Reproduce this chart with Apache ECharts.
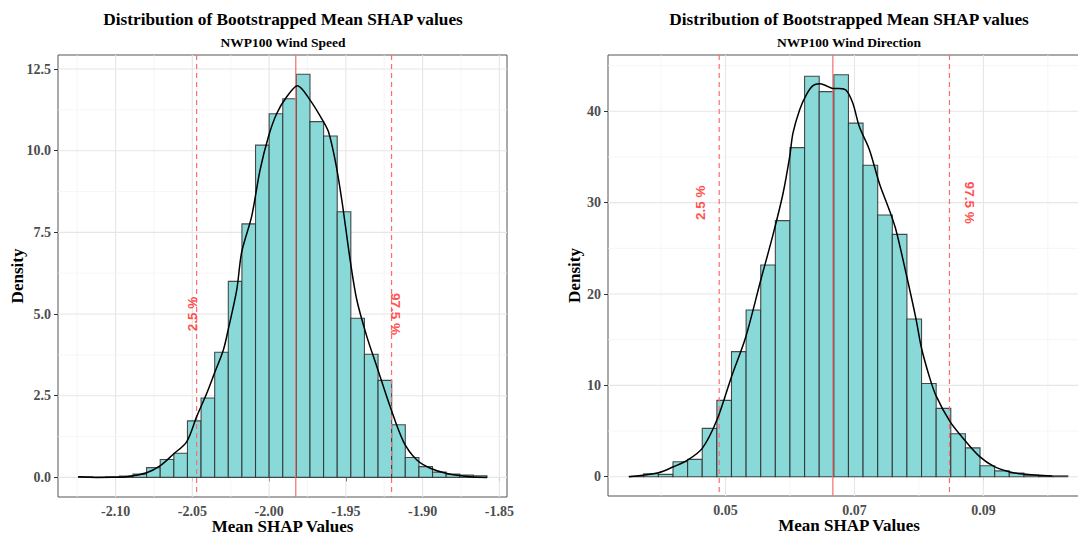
<!DOCTYPE html>
<html><head><meta charset="utf-8">
<script src="https://cdn.jsdelivr.net/npm/echarts@6/dist/echarts.min.js"></script>
<style>html,body{margin:0;padding:0;background:#fff}#c{width:1078px;height:535px}</style>
</head><body><div id="c"></div>
<script>
// ---------- DATA ----------
const titleText = 'Distribution of Bootstrapped Mean SHAP values';
const leftSubtitle = 'NWP100 Wind Speed';
const rightSubtitle = 'NWP100 Wind Direction';
const xAxisName = 'Mean SHAP Values';
const yAxisName = 'Density';

// Left panel: histogram (30 bins)
const leftBinStart = -2.12413;
const leftBinWidth = 0.00887;
const leftHeights = [0.02, 0.01, 0.02, 0.04, 0.10, 0.30, 0.55, 0.74, 1.73, 2.43,
  3.83, 6.00, 7.76, 10.17, 11.13, 11.59, 12.34, 10.89, 10.45, 8.13,
  4.87, 3.77, 2.97, 1.61, 0.61, 0.33, 0.16, 0.10, 0.07, 0.05];
const leftDensityX = [-2.12435, -2.11239, -2.10152, -2.09283, -2.07978, -2.07109, -2.06239, -2.05370,
  -2.04717, -2.04065, -2.03565, -2.02978, -2.02674, -2.02109, -2.01783, -2.01130, -2.00587, -2.00043,
  -1.99500, -1.98848, -1.98152, -1.97326, -1.96457, -1.96130, -1.95696, -1.95261, -1.94717, -1.94283,
  -1.93630, -1.92978, -1.92109, -1.91239, -1.90370, -1.89500, -1.88413, -1.86891, -1.85804];
const leftDensityY = [0.02, 0.00, 0.005, 0.02, 0.14, 0.35, 0.71, 1.09,
  1.86, 2.57, 3.18, 3.90, 4.50, 5.73, 6.90, 8.00, 9.41, 10.43,
  11.14, 11.65, 11.99, 11.55, 10.89, 10.58, 9.71, 8.49, 6.65, 5.43,
  4.31, 3.39, 2.16, 1.09, 0.53, 0.28, 0.12, 0.02, 0.00];
const leftMean = -1.9826;
const leftCI = [-2.0472, -1.9202];
const leftLabelX = [-2.0500, -1.9178];
const leftLabelY = [5.0, 5.0];
const leftXTicks = [-2.10, -2.05, -2.00, -1.95, -1.90, -1.85];
const leftXMinor = [-2.125, -2.075, -2.025, -1.975, -1.925, -1.875];
const leftYTicks = [0, 2.5, 5.0, 7.5, 10.0, 12.5];
const leftYMinor = [1.25, 3.75, 6.25, 8.75, 11.25];

// Right panel: histogram (30 bins)
const rightBinStart = 0.03505;
const rightBinWidth = 0.002268;
const rightHeights = [0.05, 0.33, 0.26, 1.64, 1.90, 5.29, 8.36, 13.69, 18.25, 23.18,
  28.03, 36.02, 43.83, 42.15, 44.00, 38.70, 34.10, 28.65, 26.53, 17.26,
  10.20, 7.48, 4.71, 3.16, 1.20, 0.64, 0.40, 0.16, 0.08, 0.10];
const rightDensityX = [0.03505, 0.03959, 0.04191, 0.04412, 0.04639, 0.04866, 0.05093, 0.05314,
  0.05546, 0.05737, 0.05892, 0.05995, 0.06046, 0.06149, 0.06253, 0.06356, 0.06459, 0.06562,
  0.06665, 0.06768, 0.06871, 0.06974, 0.07077, 0.07232, 0.07387, 0.07541, 0.07644, 0.07809,
  0.07954, 0.08036, 0.08160, 0.08263, 0.08485, 0.08711, 0.08943, 0.09170, 0.09397, 0.09619, 0.10067];
const rightDensityY = [0.00, 0.44, 1.09, 1.82, 3.10, 6.20, 10.95, 15.30,
  21.50, 26.50, 31.00, 35.00, 37.60, 40.15, 41.80, 42.80, 43.00, 42.80,
  42.50, 42.50, 42.30, 40.90, 38.30, 35.80, 32.10, 29.20, 27.00, 22.00,
  17.30, 14.20, 11.00, 8.90, 6.00, 4.00, 2.20, 1.10, 0.55, 0.29, 0.08];
const rightMean = 0.06665;
const rightCI = [0.04902, 0.08474];
const rightLabelX = [0.04608, 0.08783];
const rightLabelY = [30, 30];
const rightXTicks = [0.05, 0.07, 0.09];
const rightXMinor = [0.04, 0.06, 0.08, 0.10];
const rightYTicks = [0, 10, 20, 30, 40];
const rightYMinor = [5, 15, 25, 35, 45];

const ciLabels = ['2.5 %', '97.5 %'];
const ciLabelRotation = [1, -1];

// ---------- LAYOUT / STYLE ----------
const L = { xMin: -2.1375, xMax: -1.845, yMin: -0.6, yMax: 12.93 };
const R = { xMin: 0.03177, xMax: 0.10654, yMin: -2.11, yMax: 46.16 };
const serif = '"Liberation Serif", "Times New Roman", serif';
const sans = '"Liberation Sans", Arial, sans-serif';
const tickColor = '#4d4d4d';

function pairs(xs, ys) { return xs.map((x, i) => [x, ys[i]]); }

function histSeries(gi, start, width, heights) {
  const data = heights.map((h, i) => [start + i * width, start + (i + 1) * width, h]);
  return {
    type: 'custom', xAxisIndex: gi, yAxisIndex: gi, z: 3, silent: true,
    data: data, encode: { x: [0, 1], y: 2 },
    renderItem: function (params, api) {
      const a = api.coord([api.value(0), 0]);
      const b = api.coord([api.value(1), api.value(2)]);
      return {
        type: 'rect',
        shape: { x: a[0], y: b[1], width: b[0] - a[0], height: a[1] - b[1] },
        style: { fill: '#89d9d9', stroke: 'rgba(45,45,45,0.85)', lineWidth: 1.1 }
      };
    }
  };
}

function gridSeries(gi, xMajor, xMinor, yMajor, yMinor, ext) {
  const data = [];
  xMajor.forEach(v => data.push([v, 0, 1]));
  xMinor.forEach(v => data.push([v, 0, 0]));
  yMajor.forEach(v => data.push([v, 1, 1]));
  yMinor.forEach(v => data.push([v, 1, 0]));
  return {
    type: 'custom', xAxisIndex: gi, yAxisIndex: gi, z: 1, silent: true,
    data: data, encode: { x: 0, y: 1 },
    renderItem: function (params, api) {
      const cs = params.coordSys;
      const v = api.value(0), horiz = api.value(1), major = api.value(2);
      let shape;
      if (!horiz) {
        const x = api.coord([v, ext.yMin])[0];
        shape = { x1: x, y1: cs.y, x2: x, y2: cs.y + cs.height };
      } else {
        const y = api.coord([ext.xMin, v])[1];
        shape = { x1: cs.x, y1: y, x2: cs.x + cs.width, y2: y };
      }
      return { type: 'line', shape: shape,
        style: { stroke: major ? '#e6e6e6' : '#f2f2f2', lineWidth: major ? 1.1 : 0.7 } };
    }
  };
}

function refLineSeries(gi, mean, ci, ext) {
  const data = [[mean, 0], [ci[0], 1], [ci[1], 1]];
  return {
    type: 'custom', xAxisIndex: gi, yAxisIndex: gi, z: 4, silent: true,
    data: data, encode: { x: 0 },
    renderItem: function (params, api) {
      const cs = params.coordSys;
      const x = api.coord([api.value(0), ext.yMin])[0];
      const dashed = api.value(1);
      return { type: 'line', shape: { x1: x, y1: cs.y, x2: x, y2: cs.y + cs.height },
        style: dashed ? { stroke: '#ff6b6b', lineWidth: 1.2, lineDash: [5, 4] }
                      : { stroke: '#f07070', lineWidth: 1.2 } };
    }
  };
}

function labelSeries(gi, xs, ys) {
  return {
    type: 'custom', xAxisIndex: gi, yAxisIndex: gi, z: 6, silent: true,
    data: pairs(xs, ys), encode: { x: 0, y: 1 },
    renderItem: function (params, api) {
      const p = api.coord([api.value(0), api.value(1)]);
      const i = params.dataIndex;
      return { type: 'text', x: p[0], y: p[1], rotation: ciLabelRotation[i] * Math.PI / 2,
        style: { text: ciLabels[i], fill: '#ff5252', font: 'bold 13.5px ' + sans,
                 align: 'center', verticalAlign: 'middle' } };
    }
  };
}

function densitySeries(gi, xs, ys) {
  return {
    type: 'line', xAxisIndex: gi, yAxisIndex: gi, z: 5, silent: true,
    data: pairs(xs, ys), smooth: 0.3, showSymbol: false, symbol: 'none',
    lineStyle: { color: '#000', width: 1.5 }
  };
}

function xAxis(gi, ext, ticks, fmt) {
  return {
    type: 'value', gridIndex: gi, min: ext.xMin, max: ext.xMax,
    name: xAxisName, nameLocation: 'middle', nameGap: 21, nameMoveOverlap: false,
    nameTextStyle: { fontFamily: serif, fontWeight: 'bold', fontSize: 17, color: '#000' },
    axisLine: { show: false },
    axisTick: { show: true, inside: false, length: 4, customValues: ticks, lineStyle: { color: '#333', width: 1 } },
    axisLabel: { customValues: ticks, margin: 7, formatter: fmt,
      fontFamily: serif, fontWeight: 'bold', fontSize: 14, color: tickColor },
    splitLine: { show: false }
  };
}
function yAxis(gi, ext, ticks, fmt, gap) {
  return {
    type: 'value', gridIndex: gi, min: ext.yMin, max: ext.yMax,
    name: yAxisName, nameLocation: 'middle', nameGap: gap, nameRotate: 90, nameMoveOverlap: false,
    nameTextStyle: { fontFamily: serif, fontWeight: 'bold', fontSize: 17, color: '#000' },
    axisLine: { show: false },
    axisTick: { show: true, inside: false, length: 4, customValues: ticks, lineStyle: { color: '#333', width: 1 } },
    axisLabel: { customValues: ticks, margin: 7, formatter: fmt,
      fontFamily: serif, fontWeight: 'bold', fontSize: 14, color: tickColor },
    splitLine: { show: false }
  };
}

function titleBlock(cx, sub) {
  return [
    { text: titleText, left: cx, top: 11, textAlign: 'center', padding: 0,
      textStyle: { fontFamily: serif, fontWeight: 'bold', fontSize: 17.3, color: '#000' } },
    { text: sub, left: cx, top: 35, textAlign: 'center', padding: 0,
      textStyle: { fontFamily: serif, fontWeight: 'bold', fontSize: 13.5, color: '#000' } }
  ];
}

const chart = echarts.init(document.getElementById('c'), null, { renderer: 'svg', width: 1078, height: 535 });
chart.setOption({
  animation: false,
  backgroundColor: '#fff',
  title: titleBlock(283, leftSubtitle).concat(titleBlock(849, rightSubtitle)),
  grid: [
    { left: 58, right: 571, top: 55, bottom: 38, show: true, borderColor: '#555', borderWidth: 1,
      backgroundColor: '#fff', containLabel: false, outerBoundsMode: 'none' },
    { left: 608, right: -12, top: 55, bottom: 39, show: true, borderColor: '#555', borderWidth: 1,
      backgroundColor: '#fff', containLabel: false, outerBoundsMode: 'none' }
  ],
  xAxis: [
    xAxis(0, L, leftXTicks, v => Number(v).toFixed(2)),
    xAxis(1, R, rightXTicks, v => Number(v).toFixed(2))
  ],
  yAxis: [
    yAxis(0, L, leftYTicks, v => Number(v).toFixed(1), 32),
    yAxis(1, R, rightYTicks, v => String(Math.round(v)), 25)
  ],
  series: [
    gridSeries(0, leftXTicks, leftXMinor, leftYTicks, leftYMinor, L),
    gridSeries(1, rightXTicks, rightXMinor, rightYTicks, rightYMinor, R),
    histSeries(0, leftBinStart, leftBinWidth, leftHeights),
    histSeries(1, rightBinStart, rightBinWidth, rightHeights),
    refLineSeries(0, leftMean, leftCI, L),
    refLineSeries(1, rightMean, rightCI, R),
    densitySeries(0, leftDensityX, leftDensityY),
    densitySeries(1, rightDensityX, rightDensityY),
    labelSeries(0, leftLabelX, leftLabelY),
    labelSeries(1, rightLabelX, rightLabelY)
  ]
});
</script></body></html>
